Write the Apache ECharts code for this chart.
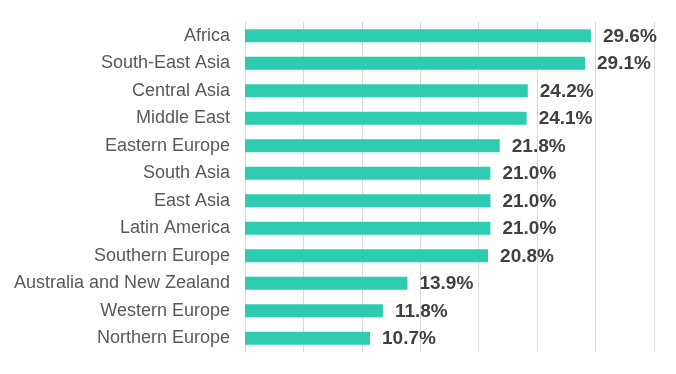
<!DOCTYPE html>
<html>
<head>
<meta charset="utf-8">
<script src="https://cdn.jsdelivr.net/npm/echarts@6/dist/echarts.min.js"></script>
<style>html,body{margin:0;padding:0;background:#fff;}#c{width:676px;height:374px;}</style>
</head>
<body>
<div id="c"></div>
<script>
const categories = ["Africa","South-East Asia","Central Asia","Middle East","Eastern Europe","South Asia","East Asia","Latin America","Southern Europe","Australia and New Zealand","Western Europe","Northern Europe"];
const values = [29.6,29.1,24.2,24.1,21.8,21.0,21.0,21.0,20.8,13.9,11.8,10.7];

const chart = echarts.init(document.getElementById('c'));
chart.setOption({
  animation: false,
  grid: {left: 245, right: 22, top: 22, bottom: 22, containLabel: false},
  xAxis: {
    type: 'value', min: 0, max: 35, interval: 5,
    axisLabel: {show: false}, axisTick: {show: false}, axisLine: {show: false},
    splitLine: {show: true, lineStyle: {color: '#d9d9d9', width: 1}}
  },
  yAxis: {
    type: 'category', data: categories, inverse: true,
    axisTick: {show: false},
    axisLine: {show: true, lineStyle: {color: '#d9d9d9', width: 1}},
    axisLabel: {color: '#595959', fontSize: 18, fontFamily: 'Liberation Sans, Arial, sans-serif', margin: 15}
  },
  series: [{
    type: 'bar', data: values, barWidth: 13,
    itemStyle: {color: '#2DCCB0'},
    label: {
      show: true, position: 'right', distance: 12,
      formatter: p => p.value.toFixed(1) + '%',
      color: '#404040', fontSize: 19, fontWeight: 'bold',
      fontFamily: 'Liberation Sans, Arial, sans-serif', offset: [0, 1]
    }
  }]
});
</script>
</body>
</html>
